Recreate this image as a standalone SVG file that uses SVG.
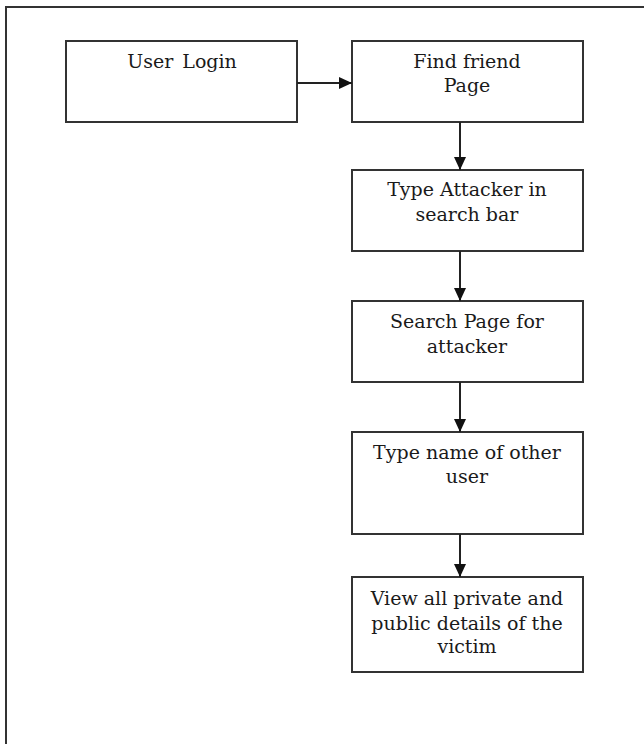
<svg xmlns="http://www.w3.org/2000/svg" width="644" height="744" viewBox="0 0 644 744">
<style>
.box{fill:#fff;stroke:#333;stroke-width:2}
.lbl{font-family:"DejaVu Serif","Liberation Serif",serif;font-size:19px;fill:#1a1a1a;text-anchor:middle}
.edge{stroke:#222;stroke-width:2;fill:none}
.frame{stroke:#333;stroke-width:2;fill:none}
</style>
<defs>
<marker id="arr" markerWidth="14" markerHeight="12" refX="13" refY="6" orient="auto" markerUnits="userSpaceOnUse">
<path d="M0,0 L13,6 L0,12 Z" fill="#111"/>
</marker>
</defs>
<rect width="644" height="744" fill="#fff"/>
<path class="frame" d="M6,744 L6,7 L644,7"/>
<g id="n1"><rect class="box" x="66" y="41" width="231" height="81"/><text class="lbl" x="182" y="68" word-spacing="3">User Login</text></g>
<g id="n2"><rect class="box" x="352" y="41" width="231" height="81"/><text class="lbl" x="467" y="68">Find friend</text><text class="lbl" x="467" y="92">Page</text></g>
<g id="n3"><rect class="box" x="352" y="170" width="231" height="81"/><text class="lbl" x="467" y="196">Type Attacker in</text><text class="lbl" x="467" y="221">search bar</text></g>
<g id="n4"><rect class="box" x="352" y="301" width="231" height="81"/><text class="lbl" x="467" y="328">Search Page for</text><text class="lbl" x="467" y="353">attacker</text></g>
<g id="n5"><rect class="box" x="352" y="432" width="231" height="102"/><text class="lbl" x="467" y="459">Type name of other</text><text class="lbl" x="467" y="483">user</text></g>
<g id="n6"><rect class="box" x="352" y="577" width="231" height="95"/><text class="lbl" x="467" y="605">View all private and</text><text class="lbl" x="467" y="630">public details of the</text><text class="lbl" x="467" y="653">victim</text></g>
<g id="edges">
<line class="edge" x1="297" y1="83" x2="352" y2="83" marker-end="url(#arr)"/>
<line class="edge" x1="460" y1="122" x2="460" y2="170" marker-end="url(#arr)"/>
<line class="edge" x1="460" y1="251" x2="460" y2="301" marker-end="url(#arr)"/>
<line class="edge" x1="460" y1="382" x2="460" y2="432" marker-end="url(#arr)"/>
<line class="edge" x1="460" y1="534" x2="460" y2="577" marker-end="url(#arr)"/>
</g>
</svg>
